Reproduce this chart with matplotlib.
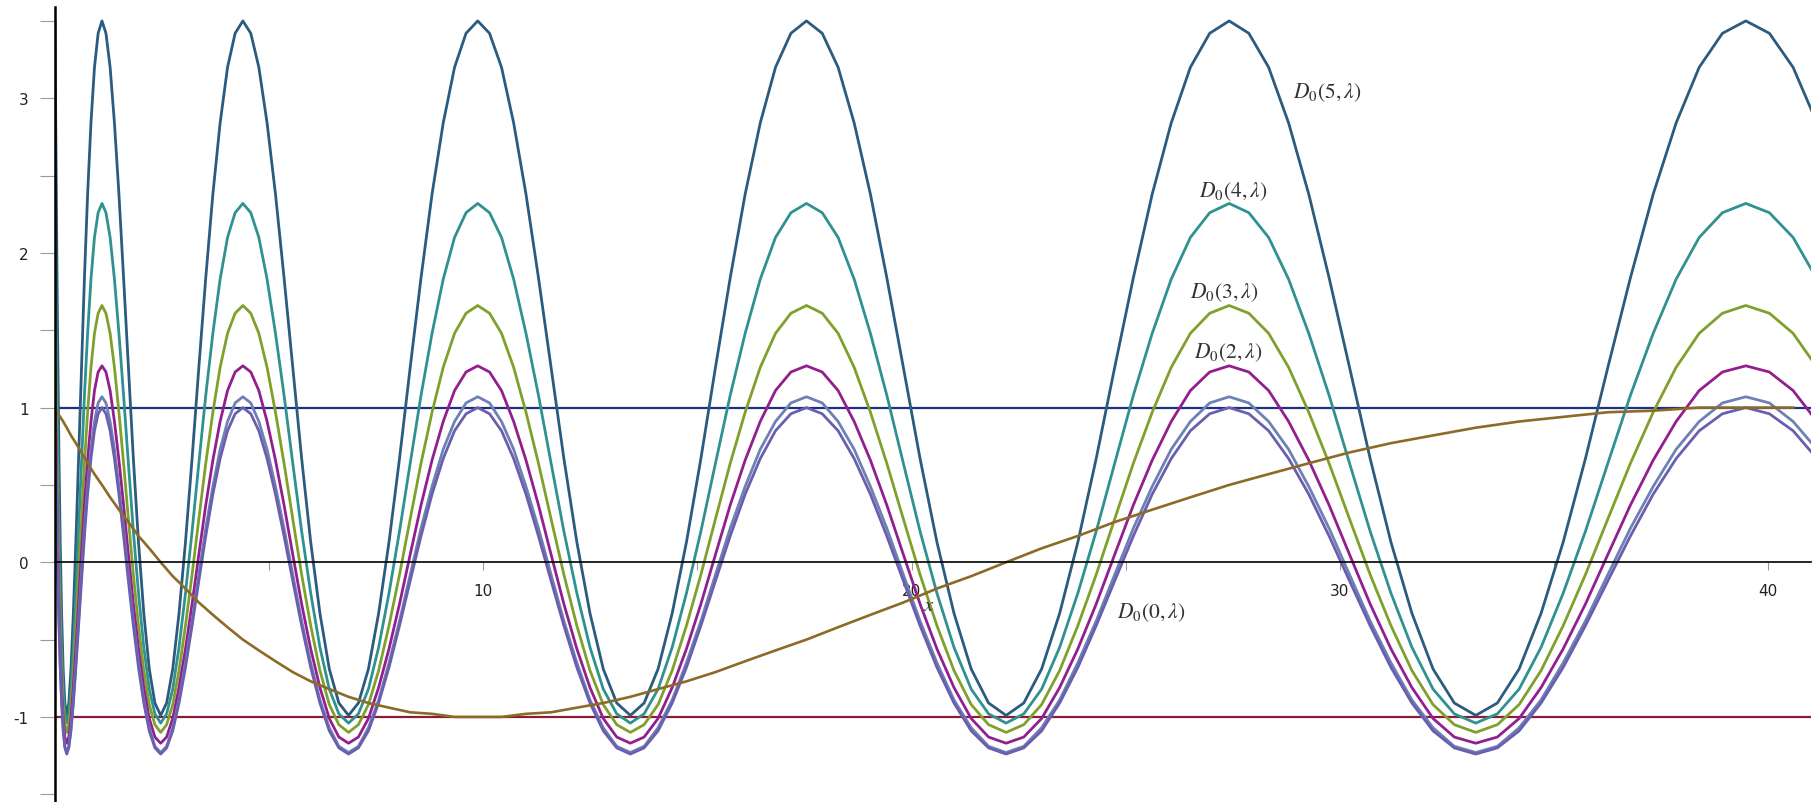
import matplotlib.pyplot as plt
from matplotlib.ticker import MultipleLocator

plt.rcParams["font.family"] = "DejaVu Sans"
plt.rcParams["mathtext.fontset"] = "stix"
plt.rcParams["axes.unicode_minus"] = False

# lambda positions where the curves were read
lam = [
    0.0, 0.0019, 0.0076, 0.0171, 0.0305, 0.0476, 0.0685, 0.0933, 0.1218, 0.1542, 0.1904, 0.2304,
    0.2742, 0.3218, 0.3732, 0.4284, 0.4874, 0.5502, 0.6168, 0.6873, 0.7615, 0.8396, 0.9215, 1.0071,
    1.0966, 1.1899, 1.287, 1.3879, 1.4926, 1.6011, 1.7135, 1.8296, 1.9495, 2.0733, 2.2009, 2.3322,
    2.4674, 2.6064, 2.7492, 2.8958, 3.0462, 3.2004, 3.3584, 3.5202, 3.6859, 3.8553, 4.0285, 4.2056,
    4.3865, 4.5711, 4.7596, 4.9519, 5.148, 5.3479, 5.5516, 5.7591, 5.9705, 6.1856, 6.4046, 6.6273,
    6.8539, 7.0842, 7.3184, 7.5564, 7.7982, 8.0438, 8.2932, 8.5464, 8.8034, 9.0642, 9.3289, 9.5973,
    9.8696, 10.1456, 10.4255, 10.7092, 10.9966, 11.2879, 11.583, 11.8819, 12.1846, 12.4912, 12.8015, 13.1157,
    13.4336, 13.7554, 14.0809, 14.4103, 14.7434, 15.0805, 15.4212, 15.7658, 16.1142, 16.4665, 16.8224, 17.1823,
    17.5459, 17.9134, 18.2846, 18.6597, 19.0385, 19.4212, 19.8077, 20.198, 20.592, 20.99, 21.3917, 21.7972,
    22.2065, 22.6197, 23.0366, 23.4574, 23.8819, 24.3103, 24.7424, 25.1784, 25.6182, 26.0618, 26.5092, 26.9604,
    27.4154, 27.8743, 28.3369, 28.8033, 29.2736, 29.7477, 30.2255, 30.7072, 31.1927, 31.682, 32.1751, 32.672,
    33.1727, 33.6773, 34.1855, 34.6977, 35.2136, 35.7334, 36.2569, 36.7844, 37.3155, 37.8505, 38.3892, 38.9319,
    39.4782, 40.0285, 40.5824, 41.1404,
]

d0_5 = [
    3.50, 3.42, 3.20, 2.84, 2.38, 1.84, 1.26, 0.67, 0.13, -0.33, -0.69, -0.91, -0.99, -0.91, -0.69, -0.33, 0.13, 0.67, 1.26, 1.84, 2.38, 2.84, 3.20, 3.42,
    3.50, 3.42, 3.20, 2.84, 2.38, 1.84, 1.26, 0.67, 0.13, -0.33, -0.69, -0.91, -0.99, -0.91, -0.69, -0.33, 0.13, 0.67, 1.26, 1.84, 2.38, 2.84, 3.20, 3.42,
    3.50, 3.42, 3.20, 2.84, 2.38, 1.84, 1.26, 0.67, 0.13, -0.33, -0.69, -0.91, -0.99, -0.91, -0.69, -0.33, 0.13, 0.67, 1.26, 1.84, 2.38, 2.84, 3.20, 3.42,
    3.50, 3.42, 3.20, 2.84, 2.38, 1.84, 1.26, 0.67, 0.13, -0.33, -0.69, -0.91, -0.99, -0.91, -0.69, -0.33, 0.13, 0.67, 1.26, 1.84, 2.38, 2.84, 3.20, 3.42,
    3.50, 3.42, 3.20, 2.84, 2.38, 1.84, 1.26, 0.67, 0.13, -0.33, -0.69, -0.91, -0.99, -0.91, -0.69, -0.33, 0.13, 0.67, 1.26, 1.84, 2.38, 2.84, 3.20, 3.42,
    3.50, 3.42, 3.20, 2.84, 2.38, 1.84, 1.26, 0.67, 0.13, -0.33, -0.69, -0.91, -0.99, -0.91, -0.69, -0.33, 0.13, 0.67, 1.26, 1.84, 2.38, 2.84, 3.20, 3.42,
    3.50, 3.42, 3.20, 2.84,
]
d0_4 = [
    2.32, 2.26, 2.10, 1.83, 1.48, 1.08, 0.64, 0.20, -0.20, -0.55, -0.82, -0.98, -1.04, -0.98, -0.82, -0.55, -0.20, 0.20, 0.64, 1.08, 1.48, 1.83, 2.10, 2.26,
    2.32, 2.26, 2.10, 1.83, 1.48, 1.08, 0.64, 0.20, -0.20, -0.55, -0.82, -0.98, -1.04, -0.98, -0.82, -0.55, -0.20, 0.20, 0.64, 1.08, 1.48, 1.83, 2.10, 2.26,
    2.32, 2.26, 2.10, 1.83, 1.48, 1.08, 0.64, 0.20, -0.20, -0.55, -0.82, -0.98, -1.04, -0.98, -0.82, -0.55, -0.20, 0.20, 0.64, 1.08, 1.48, 1.83, 2.10, 2.26,
    2.32, 2.26, 2.10, 1.83, 1.48, 1.08, 0.64, 0.20, -0.20, -0.55, -0.82, -0.98, -1.04, -0.98, -0.82, -0.55, -0.20, 0.20, 0.64, 1.08, 1.48, 1.83, 2.10, 2.26,
    2.32, 2.26, 2.10, 1.83, 1.48, 1.08, 0.64, 0.20, -0.20, -0.55, -0.82, -0.98, -1.04, -0.98, -0.82, -0.55, -0.20, 0.20, 0.64, 1.08, 1.48, 1.83, 2.10, 2.26,
    2.32, 2.26, 2.10, 1.83, 1.48, 1.08, 0.64, 0.20, -0.20, -0.55, -0.82, -0.98, -1.04, -0.98, -0.82, -0.55, -0.20, 0.20, 0.64, 1.08, 1.48, 1.83, 2.10, 2.26,
    2.32, 2.26, 2.10, 1.83,
]
d0_3 = [
    1.66, 1.61, 1.48, 1.26, 0.97, 0.64, 0.28, -0.08, -0.41, -0.70, -0.92, -1.05, -1.10, -1.05, -0.92, -0.70, -0.41, -0.08, 0.28, 0.64, 0.97, 1.26, 1.48, 1.61,
    1.66, 1.61, 1.48, 1.26, 0.97, 0.64, 0.28, -0.08, -0.41, -0.70, -0.92, -1.05, -1.10, -1.05, -0.92, -0.70, -0.41, -0.08, 0.28, 0.64, 0.97, 1.26, 1.48, 1.61,
    1.66, 1.61, 1.48, 1.26, 0.97, 0.64, 0.28, -0.08, -0.41, -0.70, -0.92, -1.05, -1.10, -1.05, -0.92, -0.70, -0.41, -0.08, 0.28, 0.64, 0.97, 1.26, 1.48, 1.61,
    1.66, 1.61, 1.48, 1.26, 0.97, 0.64, 0.28, -0.08, -0.41, -0.70, -0.92, -1.05, -1.10, -1.05, -0.92, -0.70, -0.41, -0.08, 0.28, 0.64, 0.97, 1.26, 1.48, 1.61,
    1.66, 1.61, 1.48, 1.26, 0.97, 0.64, 0.28, -0.08, -0.41, -0.70, -0.92, -1.05, -1.10, -1.05, -0.92, -0.70, -0.41, -0.08, 0.28, 0.64, 0.97, 1.26, 1.48, 1.61,
    1.66, 1.61, 1.48, 1.26, 0.97, 0.64, 0.28, -0.08, -0.41, -0.70, -0.92, -1.05, -1.10, -1.05, -0.92, -0.70, -0.41, -0.08, 0.28, 0.64, 0.97, 1.26, 1.48, 1.61,
    1.66, 1.61, 1.48, 1.26,
]
d0_2 = [
    1.27, 1.23, 1.11, 0.91, 0.66, 0.37, 0.05, -0.27, -0.56, -0.81, -1.01, -1.13, -1.17, -1.13, -1.01, -0.81, -0.56, -0.27, 0.05, 0.37, 0.66, 0.91, 1.11, 1.23,
    1.27, 1.23, 1.11, 0.91, 0.66, 0.37, 0.05, -0.27, -0.56, -0.81, -1.01, -1.13, -1.17, -1.13, -1.01, -0.81, -0.56, -0.27, 0.05, 0.37, 0.66, 0.91, 1.11, 1.23,
    1.27, 1.23, 1.11, 0.91, 0.66, 0.37, 0.05, -0.27, -0.56, -0.81, -1.01, -1.13, -1.17, -1.13, -1.01, -0.81, -0.56, -0.27, 0.05, 0.37, 0.66, 0.91, 1.11, 1.23,
    1.27, 1.23, 1.11, 0.91, 0.66, 0.37, 0.05, -0.27, -0.56, -0.81, -1.01, -1.13, -1.17, -1.13, -1.01, -0.81, -0.56, -0.27, 0.05, 0.37, 0.66, 0.91, 1.11, 1.23,
    1.27, 1.23, 1.11, 0.91, 0.66, 0.37, 0.05, -0.27, -0.56, -0.81, -1.01, -1.13, -1.17, -1.13, -1.01, -0.81, -0.56, -0.27, 0.05, 0.37, 0.66, 0.91, 1.11, 1.23,
    1.27, 1.23, 1.11, 0.91, 0.66, 0.37, 0.05, -0.27, -0.56, -0.81, -1.01, -1.13, -1.17, -1.13, -1.01, -0.81, -0.56, -0.27, 0.05, 0.37, 0.66, 0.91, 1.11, 1.23,
    1.27, 1.23, 1.11, 0.91,
]
d0_1 = [
    1.07, 1.03, 0.91, 0.73, 0.49, 0.22, -0.08, -0.38, -0.65, -0.89, -1.07, -1.19, -1.23, -1.19, -1.07, -0.89, -0.65, -0.38, -0.08, 0.22, 0.49, 0.73, 0.91, 1.03,
    1.07, 1.03, 0.91, 0.73, 0.49, 0.22, -0.08, -0.38, -0.65, -0.89, -1.07, -1.19, -1.23, -1.19, -1.07, -0.89, -0.65, -0.38, -0.08, 0.22, 0.49, 0.73, 0.91, 1.03,
    1.07, 1.03, 0.91, 0.73, 0.49, 0.22, -0.08, -0.38, -0.65, -0.89, -1.07, -1.19, -1.23, -1.19, -1.07, -0.89, -0.65, -0.38, -0.08, 0.22, 0.49, 0.73, 0.91, 1.03,
    1.07, 1.03, 0.91, 0.73, 0.49, 0.22, -0.08, -0.38, -0.65, -0.89, -1.07, -1.19, -1.23, -1.19, -1.07, -0.89, -0.65, -0.38, -0.08, 0.22, 0.49, 0.73, 0.91, 1.03,
    1.07, 1.03, 0.91, 0.73, 0.49, 0.22, -0.08, -0.38, -0.65, -0.89, -1.07, -1.19, -1.23, -1.19, -1.07, -0.89, -0.65, -0.38, -0.08, 0.22, 0.49, 0.73, 0.91, 1.03,
    1.07, 1.03, 0.91, 0.73, 0.49, 0.22, -0.08, -0.38, -0.65, -0.89, -1.07, -1.19, -1.23, -1.19, -1.07, -0.89, -0.65, -0.38, -0.08, 0.22, 0.49, 0.73, 0.91, 1.03,
    1.07, 1.03, 0.91, 0.73,
]
d0_0 = [
    1.00, 0.96, 0.85, 0.67, 0.44, 0.17, -0.12, -0.41, -0.68, -0.91, -1.09, -1.20, -1.24, -1.20, -1.09, -0.91, -0.68, -0.41, -0.12, 0.17, 0.44, 0.67, 0.85, 0.96,
    1.00, 0.96, 0.85, 0.67, 0.44, 0.17, -0.12, -0.41, -0.68, -0.91, -1.09, -1.20, -1.24, -1.20, -1.09, -0.91, -0.68, -0.41, -0.12, 0.17, 0.44, 0.67, 0.85, 0.96,
    1.00, 0.96, 0.85, 0.67, 0.44, 0.17, -0.12, -0.41, -0.68, -0.91, -1.09, -1.20, -1.24, -1.20, -1.09, -0.91, -0.68, -0.41, -0.12, 0.17, 0.44, 0.67, 0.85, 0.96,
    1.00, 0.96, 0.85, 0.67, 0.44, 0.17, -0.12, -0.41, -0.68, -0.91, -1.09, -1.20, -1.24, -1.20, -1.09, -0.91, -0.68, -0.41, -0.12, 0.17, 0.44, 0.67, 0.85, 0.96,
    1.00, 0.96, 0.85, 0.67, 0.44, 0.17, -0.12, -0.41, -0.68, -0.91, -1.09, -1.20, -1.24, -1.20, -1.09, -0.91, -0.68, -0.41, -0.12, 0.17, 0.44, 0.67, 0.85, 0.96,
    1.00, 0.96, 0.85, 0.67, 0.44, 0.17, -0.12, -0.41, -0.68, -0.91, -1.09, -1.20, -1.24, -1.20, -1.09, -0.91, -0.68, -0.41, -0.12, 0.17, 0.44, 0.67, 0.85, 0.96,
    1.00, 0.96, 0.85, 0.67,
]

# slow brown curve, read at every second lambda position
slow = [
    0.98, 0.98, 0.97, 0.96, 0.94, 0.91, 0.87, 0.82, 0.77, 0.71, 0.64, 0.57,
    0.50, 0.42, 0.34, 0.26, 0.17, 0.09, 0.00, -0.09, -0.17, -0.26, -0.34, -0.42,
    -0.50, -0.57, -0.64, -0.71, -0.77, -0.82, -0.87, -0.91, -0.94, -0.97, -0.98, -1.00,
    -1.00, -1.00, -0.98, -0.97, -0.94, -0.91, -0.87, -0.82, -0.77, -0.71, -0.64, -0.57,
    -0.50, -0.42, -0.34, -0.26, -0.17, -0.09, 0.00, 0.09, 0.17, 0.26, 0.34, 0.42,
    0.50, 0.57, 0.64, 0.71, 0.77, 0.82, 0.87, 0.91, 0.94, 0.97, 0.98, 1.00,
    1.00, 1.00,
]

curves = [
    ("$D_0(5,\\lambda)$", d0_5, "#2b5b7e", (28.9, 3.04)),
    ("$D_0(4,\\lambda)$", d0_4, "#2f9190", (26.7, 2.40)),
    ("$D_0(3,\\lambda)$", d0_3, "#80a02c", (26.5, 1.75)),
    ("$D_0(2,\\lambda)$", d0_2, "#931f8e", (26.6, 1.36)),
    (None, d0_1, "#6e80b4", None),
    ("$D_0(0,\\lambda)$", d0_0, "#6a5fae", (24.8, -0.32)),
]


def main() -> None:
    fig = plt.figure(figsize=(18.18, 8.03), dpi=100)
    ax = fig.add_axes([55 / 1818, 0.0, 1756 / 1818, 795 / 803])

    ax.axhline(1, color="#1f2f80", linewidth=1.6, zorder=2)
    ax.axhline(-1, color="#8a1c3a", linewidth=1.6, zorder=2)

    for label, ys, color, pos in curves:
        ax.plot(lam, ys, color=color, linewidth=2.0, zorder=3)
        if label is not None:
            ax.text(pos[0], pos[1], label, fontsize=15.5, color="#333333",
                    ha="left", va="center", zorder=6)

    ax.plot(lam[::2], slow, color="#8c6a28", linewidth=1.9, zorder=4)

    ax.set_xlim(0, 41)
    ax.set_ylim(-1.55, 3.59)

    for side in ("top", "right"):
        ax.spines[side].set_visible(False)
    ax.spines["bottom"].set_position(("data", 0))
    ax.spines["left"].set_linewidth(1.8)
    ax.spines["bottom"].set_linewidth(1.2)
    ax.spines["left"].set_zorder(5)
    ax.spines["bottom"].set_zorder(5)

    ax.xaxis.set_major_locator(MultipleLocator(10))
    ax.xaxis.set_minor_locator(MultipleLocator(5))
    ax.yaxis.set_major_locator(MultipleLocator(1))
    ax.yaxis.set_minor_locator(MultipleLocator(0.5))
    ax.set_xticks([10, 20, 30, 40])
    ax.set_xticklabels(["10", "20", "30", "40"])

    ax.tick_params(axis="y", which="both", direction="out", length=11,
                   width=0.8, color="#9a9a9a", labelsize=11, pad=8,
                   labelcolor="#222222")
    ax.tick_params(axis="x", which="both", direction="out", length=6,
                   width=0.8, color="#9a9a9a", labelsize=11, pad=9,
                   labelcolor="#222222")

    ax.text(20.4, -0.27, "$x$", fontsize=15, color="#333333",
            ha="center", va="center", zorder=6)

    fig.savefig("out.png", dpi=100)
    plt.close(fig)


if __name__ == "__main__":
    main()
